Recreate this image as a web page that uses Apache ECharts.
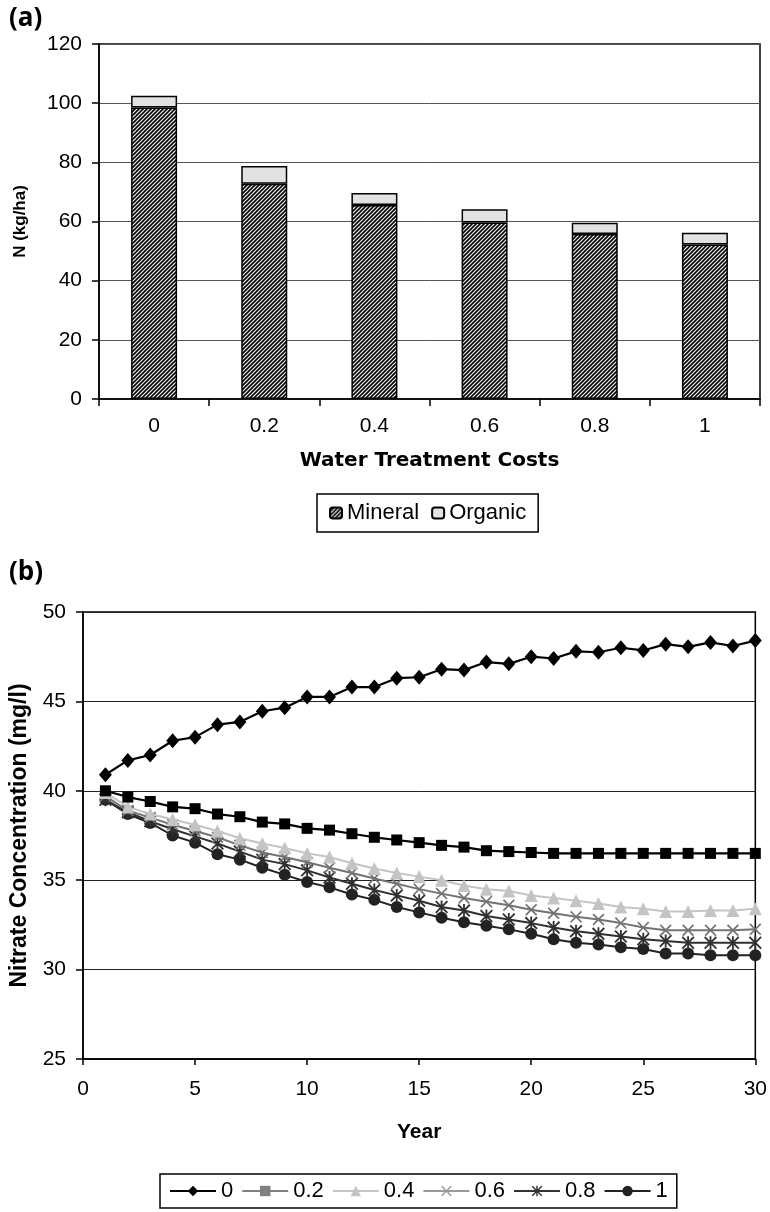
<!DOCTYPE html>
<html><head><meta charset="utf-8">
<script src="https://cdn.jsdelivr.net/npm/echarts@6/dist/echarts.min.js"></script>
<style>html,body{margin:0;padding:0;background:#fff}#c{width:770px;height:1212px}</style>
</head><body><div id="c"></div>
<script>
// ---- Panel (a) data ----
const costCategories = ['0', '0.2', '0.4', '0.6', '0.8', '1'];
const mineral = [98.5, 72.8, 65.6, 59.7, 55.8, 52.2];
const organic = [4.0, 6.0, 4.0, 4.4, 3.8, 4.0];

// ---- Panel (b) data ----
const years = [1,2,3,4,5,6,7,8,9,10,11,12,13,14,15,16,17,18,19,20,21,22,23,24,25,26,27,28,29,30];
const lineNames = ['0', '0.2', '0.4', '0.6', '0.8', '1'];
const nitrate0   = [40.9,41.7,42.0,42.8,43.0,43.7,43.85,44.45,44.65,45.25,45.25,45.8,45.8,46.3,46.35,46.8,46.75,47.2,47.1,47.5,47.4,47.8,47.75,48.0,47.85,48.2,48.05,48.3,48.1,48.4];
const nitrate02  = [40.0,39.65,39.4,39.1,39.0,38.7,38.55,38.25,38.15,37.9,37.8,37.6,37.4,37.25,37.1,36.95,36.85,36.65,36.6,36.55,36.5,36.5,36.5,36.5,36.5,36.5,36.5,36.5,36.5,36.5];
const nitrate04  = [39.9,39.1,38.7,38.4,38.1,37.75,37.35,37.05,36.8,36.5,36.3,35.95,35.65,35.4,35.2,35.0,34.7,34.5,34.4,34.15,34.0,33.85,33.7,33.5,33.4,33.25,33.25,33.3,33.3,33.4];
const nitrate06  = [39.7,38.9,38.5,38.1,37.75,37.4,36.95,36.55,36.3,36.0,35.7,35.4,35.1,34.8,34.5,34.25,34.0,33.8,33.6,33.35,33.15,32.95,32.8,32.6,32.35,32.2,32.2,32.2,32.2,32.25];
const nitrate08  = [39.5,38.8,38.3,37.85,37.45,37.05,36.6,36.15,35.9,35.55,35.15,34.8,34.45,34.15,33.85,33.5,33.3,33.0,32.8,32.6,32.35,32.15,32.0,31.85,31.7,31.6,31.5,31.5,31.5,31.5];
const nitrate1   = [39.5,38.7,38.2,37.5,37.1,36.45,36.15,35.7,35.3,34.9,34.6,34.2,33.9,33.5,33.2,32.9,32.65,32.45,32.25,32.0,31.7,31.5,31.4,31.25,31.15,30.9,30.9,30.8,30.8,30.8];
const nitrateSeries = [nitrate0, nitrate02, nitrate04, nitrate06, nitrate08, nitrate1];

// ---- styles ----
function hatch() {
  const c = document.createElement('canvas');
  c.width = 4; c.height = 4;
  const g = c.getContext('2d');
  g.fillStyle = '#f4f4f4'; g.fillRect(0, 0, 4, 4);
  g.strokeStyle = '#000000'; g.lineWidth = 1.6;
  g.beginPath();
  g.moveTo(0, 4); g.lineTo(4, 0);
  g.moveTo(-1, 1); g.lineTo(1, -1);
  g.moveTo(3, 5); g.lineTo(5, 3);
  g.stroke();
  return c;
}
const XPATH = 'path://M0,1 L1,0 L5,4 L9,0 L10,1 L6,5 L10,9 L9,10 L5,6 L1,10 L0,9 L4,5 Z';
const STARPATH = 'path://M0,1 L1,0 L5,4 L9,0 L10,1 L6,5 L10,9 L9,10 L5,6 L1,10 L0,9 L4,5 Z M4.3,0 L5.7,0 L5.7,10 L4.3,10 Z';
const lineStyles = [
  {color: '#000000', symbol: 'diamond', size: [13, 15], width: 2.2, legendColor: '#000000'},
  {color: '#000000', symbol: 'rect', size: 11, width: 2.2, legendColor: '#808080'},
  {color: '#c4c4c4', symbol: 'triangle', size: 13, width: 2, legendColor: '#c4c4c4'},
  {color: '#737373', symbol: XPATH, size: 12, width: 2, legendColor: '#9a9a9a'},
  {color: '#303030', symbol: STARPATH, size: 13, width: 2, legendColor: '#333333'},
  {color: '#222222', symbol: 'circle', size: 12, width: 2, legendColor: '#222222'}
];

const F = '"Liberation Sans", Arial, sans-serif';
const chart = echarts.init(document.getElementById('c'), null, {renderer: 'canvas'});

const series = [
  {name: 'Mineral', type: 'bar', stack: 'n', xAxisIndex: 0, yAxisIndex: 0, barWidth: 46,
   data: mineral, itemStyle: {color: {image: hatch(), repeat: 'repeat'}, borderColor: '#000', borderWidth: 1.5}},
  {name: 'Organic', type: 'bar', stack: 'n', xAxisIndex: 0, yAxisIndex: 0, barWidth: 46,
   data: organic, itemStyle: {color: '#e2e2e2', borderColor: '#000', borderWidth: 1.5}}
];
lineNames.forEach((n, i) => {
  const st = lineStyles[i];
  series.push({
    name: n, type: 'line', xAxisIndex: 1, yAxisIndex: 1,
    data: years.map((y, k) => [y, nitrateSeries[i][k]]),
    symbol: st.symbol, symbolSize: st.size, showAllSymbol: true,
    lineStyle: {color: st.color, width: st.width},
    itemStyle: {color: st.color, borderWidth: 0},
    z: 10 - i
  });
});

chart.setOption({
  animation: false,
  backgroundColor: '#fff',
  title: [
    {text: '(a)', left: 4, top: 1, textStyle: {fontFamily: '"Open Sans", sans-serif', fontWeight: 'bold', fontSize: 26, color: '#000'}},
    {text: '(b)', left: 4, top: 555, textStyle: {fontFamily: '"Open Sans", sans-serif', fontWeight: 'bold', fontSize: 26, color: '#000'}}
  ],
  grid: [
    {left: 99, top: 44, width: 661, height: 355, show: true, borderColor: '#000', borderWidth: 1.5, backgroundColor: 'transparent'},
    {left: 80, top: 612, width: 677, height: 447, show: true, borderColor: '#000', borderWidth: 1.5, backgroundColor: 'transparent'}
  ],
  legend: [
    {data: ['Mineral', 'Organic'], left: 317, top: 494, orient: 'horizontal',
     borderColor: '#000', borderWidth: 1.5, padding: [8, 12], itemWidth: 12, itemHeight: 11, itemGap: 12,
     textStyle: {fontFamily: F, fontSize: 22, color: '#000'}},
    {data: lineNames.map((n, i) => ({name: n, itemStyle: {color: lineStyles[i].legendColor}, lineStyle: {color: lineStyles[i].legendColor, width: 2}})),
     left: 160, top: 1174, orient: 'horizontal',
     borderColor: '#000', borderWidth: 1.5, padding: [6, 9], itemWidth: 46, itemHeight: 13, itemGap: 8,
     textStyle: {fontFamily: F, fontSize: 22, color: '#000'}}
  ],
  xAxis: [
    {type: 'category', gridIndex: 0, data: costCategories,
     axisLine: {lineStyle: {color: '#000', width: 1.5}},
     axisTick: {show: true, length: 7, lineStyle: {color: '#000', width: 1.5}},
     axisLabel: {fontFamily: F, fontSize: 21, color: '#000', margin: 17},
     name: 'Water Treatment Costs', nameLocation: 'middle', nameGap: 52,
     nameTextStyle: {fontFamily: '"DejaVu Sans", sans-serif', fontWeight: 'bold', fontSize: 20, color: '#000'}},
    {type: 'value', gridIndex: 1, min: 0, max: 30, interval: 5,
     axisLine: {show: true, lineStyle: {color: '#000', width: 1.5}},
     axisTick: {show: true, length: 6, lineStyle: {color: '#000', width: 1.5}},
     splitLine: {show: false},
     axisLabel: {fontFamily: F, fontSize: 21, color: '#000', margin: 20},
     name: 'Year', nameLocation: 'middle', nameGap: 63,
     nameTextStyle: {fontFamily: F, fontWeight: 'bold', fontSize: 21, color: '#000'}},
  ],
  yAxis: [
    {type: 'value', gridIndex: 0, min: 0, max: 120, interval: 20,
     axisLine: {show: true, lineStyle: {color: '#000', width: 1.5}},
     axisTick: {show: true, length: 7, lineStyle: {color: '#000', width: 1.5}},
     splitLine: {show: true, lineStyle: {color: '#555', width: 1}},
     axisLabel: {fontFamily: F, fontSize: 21, color: '#000', margin: 17},
     name: 'N (kg/ha)', nameLocation: 'middle', nameGap: 70,
     nameTextStyle: {fontFamily: F, fontWeight: 'bold', fontSize: 17, color: '#000'}},
    {type: 'value', gridIndex: 1, min: 25, max: 50, interval: 5,
     axisLine: {show: true, lineStyle: {color: '#000', width: 1.5}},
     axisTick: {show: true, length: 7, lineStyle: {color: '#000', width: 1.5}},
     splitLine: {show: true, lineStyle: {color: '#222', width: 1}},
     axisLabel: {fontFamily: F, fontSize: 21, color: '#000', margin: 17},
     name: 'Nitrate Concentration (mg/l)', nameLocation: 'middle', nameGap: 52,
     nameTextStyle: {fontFamily: F, fontWeight: 'bold', fontSize: 23, color: '#000'}}
  ],
  series: series
});
</script>
</body></html>
